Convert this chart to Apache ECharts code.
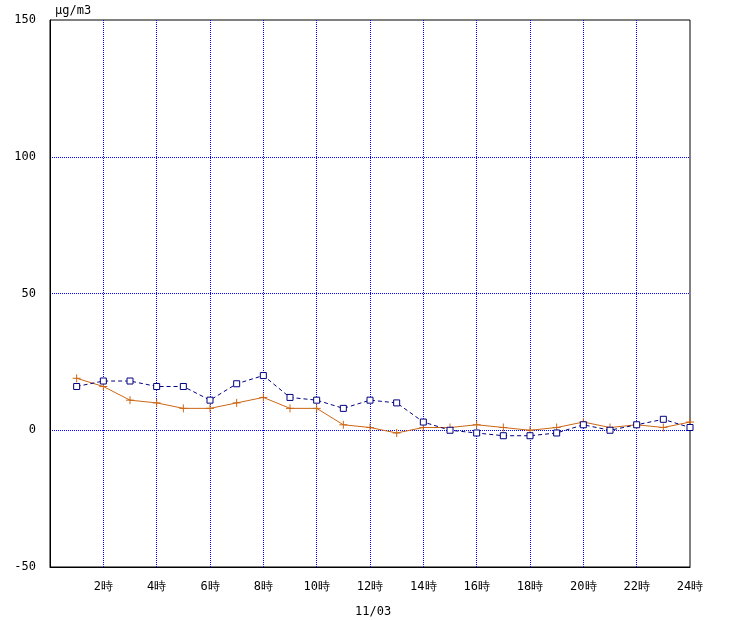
<!DOCTYPE html>
<html><head><meta charset="utf-8">
<script src="https://cdn.jsdelivr.net/npm/echarts@6/dist/echarts.min.js"></script>
<style>body{margin:0;background:#fff}#c{width:738px;height:620px}</style>
</head><body><div id="c"></div>
<script>
var hours = [1,2,3,4,5,6,7,8,9,10,11,12,13,14,15,16,17,18,19,20,21,22,23,24];
var blueVals = [16,18,18,16,16,11,17,20,12,11,8,11,10,3,0,-1,-2,-2,-1,2,0,2,4,1];
var orangeVals = [19,16,11,10,8,8,10,12,8,8,2,1,-1,1,1,2,1,0,1,3,1,2,1,3];

function pairs(v){ return hours.map(function(h,i){ return [h, v[i]]; }); }

var font = 'DejaVu Sans Mono';
var chart = echarts.init(document.getElementById('c'));
chart.setOption({
	animation: false,
	grid: { left: 50, right: 48, top: 20, bottom: 53, show: true, borderColor: '#000', borderWidth: 1 },
	title: [
		{ text: 'μg/m3', left: 50, top: 0, textStyle: { fontFamily: font, fontSize: 12, fontWeight: 'normal', color: '#000' } },
		{ text: '11/03', left: 350, top: 601, textStyle: { fontFamily: font, fontSize: 12, fontWeight: 'normal', color: '#000' } }
	],
	xAxis: {
		type: 'value', min: 0, max: 24, interval: 2,
		axisLine: { onZero: false, lineStyle: { color: '#000' } },
		axisTick: { show: false },
		axisLabel: { fontFamily: font, fontSize: 12, color: '#000', margin: 14,
			formatter: function(v){ return v === 0 ? '' : v + '時'; } },
		splitLine: { showMinLine: false, showMaxLine: false, lineStyle: { color: '#0000ff', type: 'dotted' } }
	},
	yAxis: {
		type: 'value', min: -50, max: 150, interval: 50,
		axisLine: { show: true, lineStyle: { color: '#000' } },
		axisTick: { show: false },
		axisLabel: { fontFamily: font, fontSize: 12, color: '#000', margin: 14 },
		splitLine: { showMinLine: false, showMaxLine: false, lineStyle: { color: '#0000ff', type: 'dotted' } }
	},
	series: [
		{ type: 'line', data: pairs(orangeVals), symbol: 'path://M0,5H10M5,0V10', symbolSize: 8,
		  lineStyle: { color: '#cc6614', width: 1 },
		  itemStyle: { color: 'none', borderColor: '#cc6614', borderWidth: 1 } },
		{ type: 'line', data: pairs(blueVals), symbol: 'rect', symbolSize: 6,
		  lineStyle: { color: '#000080', width: 1, type: [4,3] },
		  itemStyle: { color: '#fff', borderColor: '#000080', borderWidth: 1 } }
	]
});
</script></body></html>
